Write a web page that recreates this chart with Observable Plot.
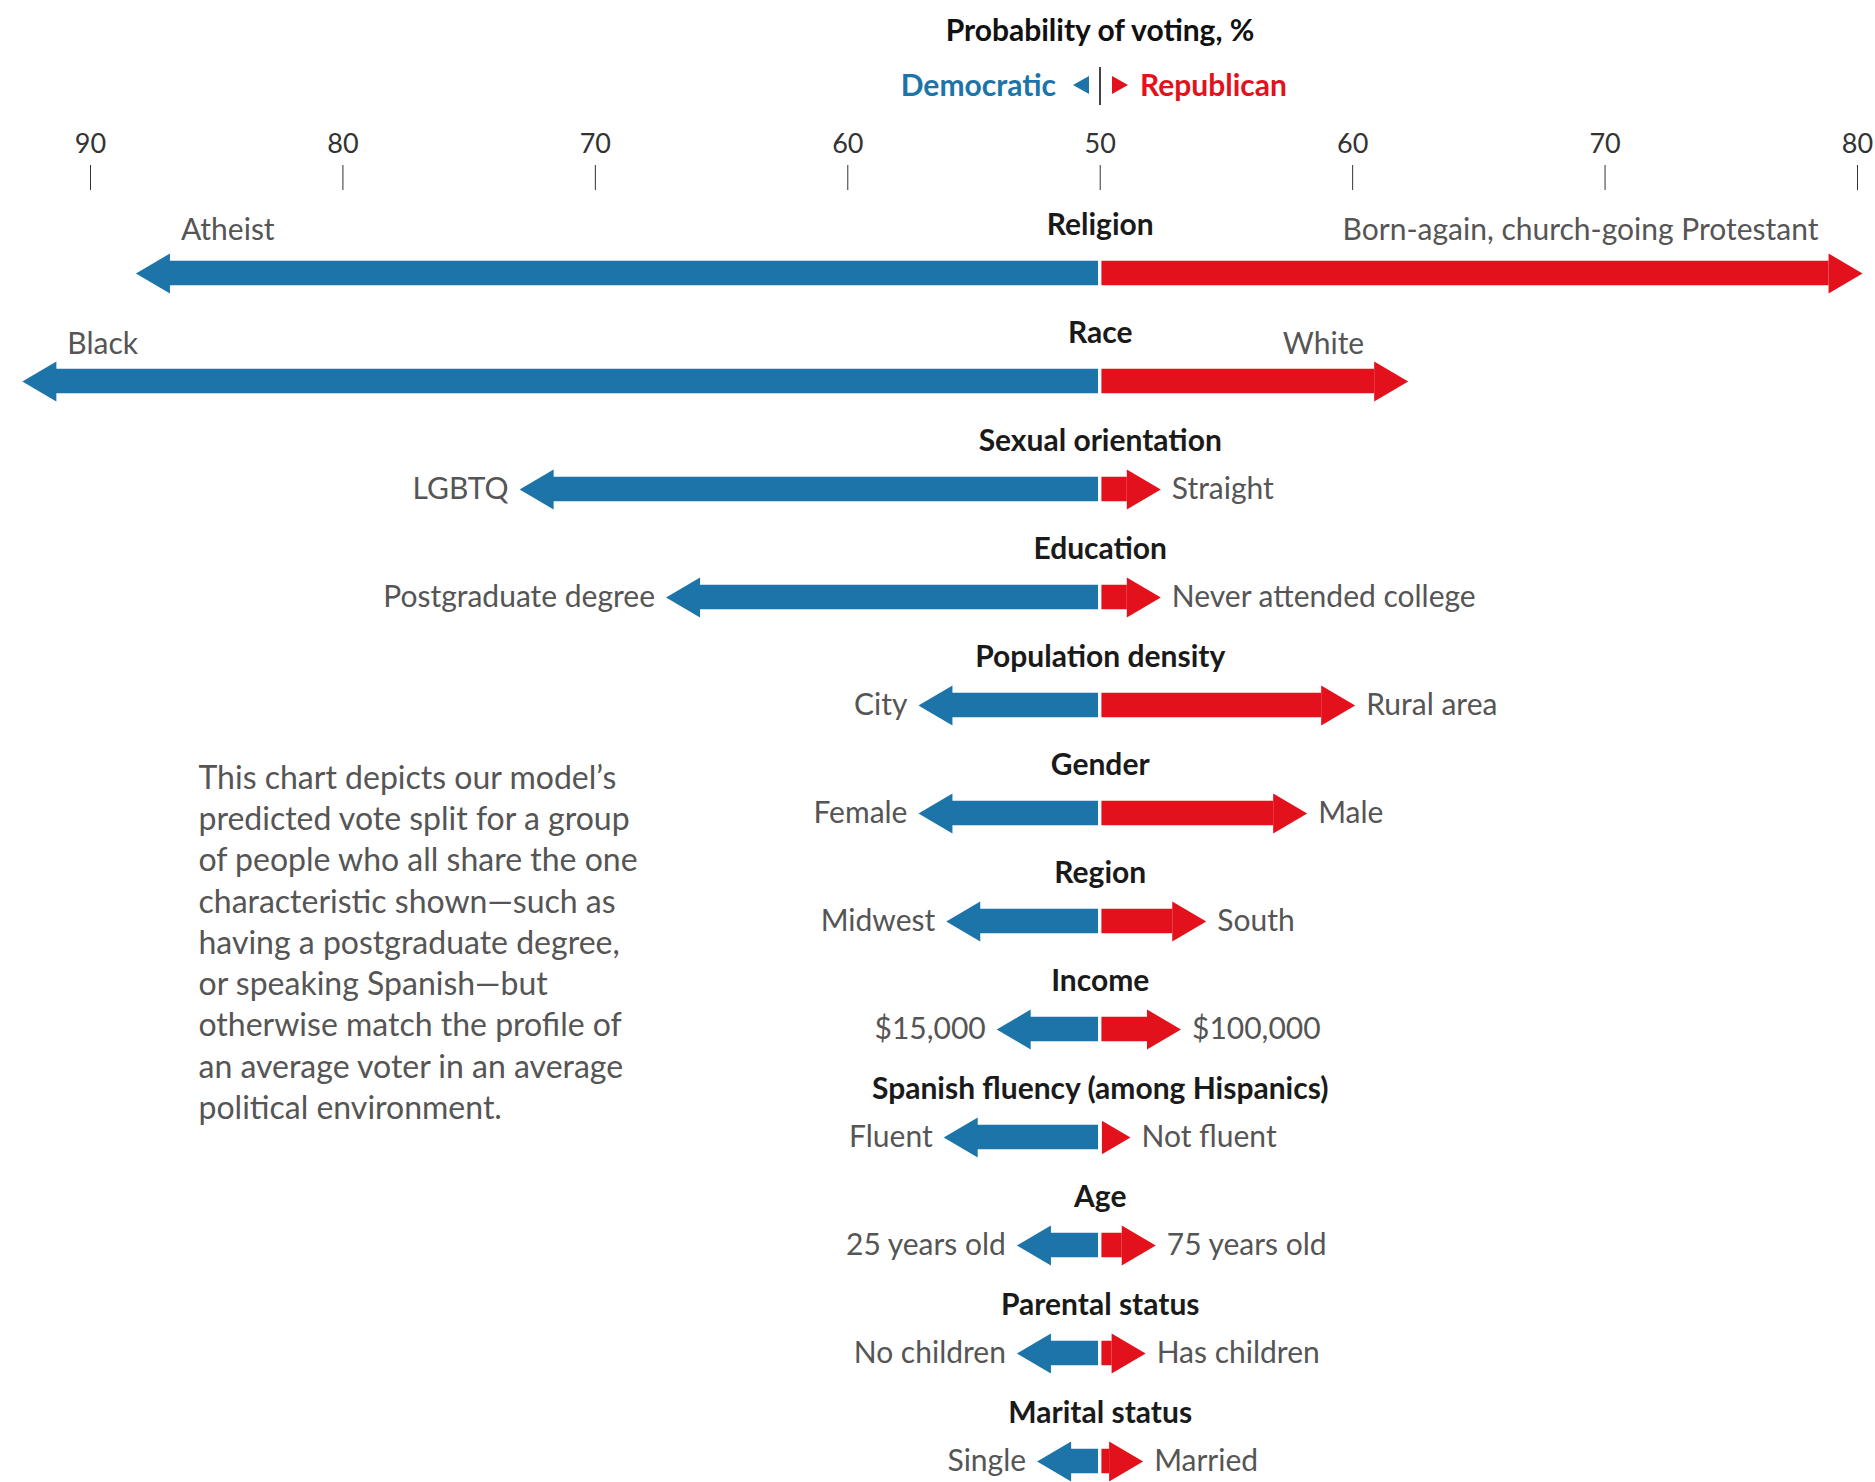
<!DOCTYPE html>
<html>
<head>
<meta charset="utf-8">
<script src="https://cdn.jsdelivr.net/npm/d3@7"></script>
<script src="https://cdn.jsdelivr.net/npm/@observablehq/plot@0.6"></script>
<style>
  body { margin: 0; background: #fff; font-family: Lato, "Noto Sans", sans-serif; }
  #header { position: relative; width: 1875px; height: 110px; }
  #header .t { position: absolute; white-space: nowrap; line-height: 30px; }
  g[aria-label^="x-axis"] line { stroke: #9b9b9b; stroke-width: 1.5px; }
  g[aria-label^="x-axis"] text { fill: #333; font-size: 27px; }
</style>
</head>
<body>
<div id="header">
  <div class="t" style="left:1100px;top:14px;transform:translateX(-50%);font-weight:700;font-size:30px;color:#111;">Probability of voting, %</div>
  <div class="t" style="right:819px;top:69px;font-weight:700;font-size:30px;color:#1c74a9;">Democratic</div>
  <svg style="position:absolute;left:1073px;top:76px" width="16" height="18"><polygon points="0,9 16,0 16,18" fill="#1c74a9"/></svg>
  <div style="position:absolute;left:1099px;top:67px;width:1.5px;height:38px;background:#444;"></div>
  <svg style="position:absolute;left:1112px;top:76px" width="16" height="18"><polygon points="0,0 16,9 0,18" fill="#e3111b"/></svg>
  <div class="t" style="left:1140px;top:69px;font-weight:700;font-size:30px;color:#e3111b;">Republican</div>
</div>
<div id="chart"></div>
<script>
// ---- data ----
const categories = ["Religion", "Race", "Sexual orientation", "Education", "Population density", "Gender", "Region", "Income", "Spanish fluency (among Hispanics)", "Age", "Parental status", "Marital status"];
const demLabels = ["Atheist", "Black", "LGBTQ", "Postgraduate degree", "City", "Female", "Midwest", "$15,000", "Fluent", "25 years old", "No children", "Single"];
const repLabels = ["Born-again, church-going Protestant", "White", "Straight", "Never attended college", "Rural area", "Male", "South", "$100,000", "Not fluent", "75 years old", "Has children", "Married"];
const demValues = [88.2, 92.7, 73.0, 67.2, 57.2, 57.2, 56.1, 54.1, 56.2, 53.3, 53.3, 52.5];
const repValues = [80.2, 62.2, 52.4, 52.4, 60.1, 58.2, 54.2, 53.2, 51.2, 52.2, 51.8, 51.7];
const tickValues = [90, 80, 70, 60, 50, 60, 70, 80];
const description = "This chart depicts our model’s\npredicted vote split for a group\nof people who all share the one\ncharacteristic shown—such as\nhaving a postgraduate degree,\nor speaking Spanish—but\notherwise match the profile of\nan average voter in an average\npolitical environment.";

// ---- layout / style ----
const W = 1875, H = 1372, mL = 90, mR = 18, mT = 79;
const blue = "#1c74a9", red = "#e3111b", grey = "#555";
const fs = 30;
const shaft = 25, headL = 34, headH = 40, gap = 1.7;
const bandTop = 106.25, bandBottom = 1408.25;
const bw = (bandBottom - bandTop) / categories.length;
const inset = (bw - shaft) / 2;
const aboveDy = new Map([["Religion", -43], ["Race", -37]]);

// signed position: Democratic to the left of 50, Republican to the right
const tickPos = tickValues.map((v, i) => (i < 4 ? -(v - 50) : v - 50));
const rows = categories.map((c, i) => ({
  cat: c, demLabel: demLabels[i], repLabel: repLabels[i],
  dx: -(demValues[i] - 50), rx: repValues[i] - 50, above: aboveDy.has(c)
}));
const pxPerUnit = (W - mL - mR) / (tickPos[tickPos.length - 1] - tickPos[0]);
const headSize = v => Math.min(headL, Math.abs(v) * pxPerUnit - gap);

function tri(dir) {
  return {
    draw(ctx, size) {
      const L = Math.sqrt(size / Math.PI);
      const h = L * headH / headL / 2;
      ctx.moveTo(0, 0);
      ctx.lineTo(-dir * L, -h);
      ctx.lineTo(-dir * L, h);
      ctx.closePath();
    }
  };
}

const aboveMarks = rows.filter(d => d.above).flatMap(d => [
  Plot.text([d], { x: "dx", y: "cat", text: "demLabel", textAnchor: "start", dx: 45, dy: aboveDy.get(d.cat), fontSize: fs, fill: grey }),
  Plot.text([d], { x: "rx", y: "cat", text: "repLabel", textAnchor: "end", dx: -44, dy: aboveDy.get(d.cat), fontSize: fs, fill: grey })
]);

const chart = Plot.plot({
  width: W, height: H,
  marginLeft: mL, marginRight: mR, marginTop: mT, marginBottom: 0,
  style: { fontFamily: "Lato, 'Noto Sans', sans-serif", fontSize: "28px", color: "#333", background: "#fff" },
  x: {
    domain: [tickPos[0], tickPos[tickPos.length - 1]], axis: "top",
    ticks: tickPos, tickFormat: d => String(50 + Math.abs(d)),
    tickSize: 25, tickPadding: 12, label: null
  },
  y: { type: "band", domain: categories, range: [bandTop, bandBottom], padding: 0, axis: null },
  r: { type: "identity" },
  marks: [
    Plot.barX(rows, { x1: "dx", x2: () => 0, y: "cat", fill: blue,
      insetLeft: headL - 0.5, insetRight: gap, insetTop: inset, insetBottom: inset }),
    Plot.barX(rows, { x1: () => 0, x2: "rx", y: "cat", fill: red,
      insetLeft: gap, insetRight: headL - 0.5, insetTop: inset, insetBottom: inset }),
    Plot.dot(rows, { x: "dx", y: "cat", symbol: tri(-1), r: d => headSize(d.dx), fill: blue, stroke: "none" }),
    Plot.dot(rows, { x: "rx", y: "cat", symbol: tri(1), r: d => headSize(d.rx), fill: red, stroke: "none" }),
    Plot.text(rows, { x: () => 0, y: "cat", text: "cat", dy: -48.5, fontWeight: "bold", fontSize: fs, fill: "#1a1a1a" }),
    Plot.text(rows.filter(d => !d.above), { x: "dx", y: "cat", text: "demLabel", textAnchor: "end", dx: -11, fontSize: fs, fill: grey }),
    Plot.text(rows.filter(d => !d.above), { x: "rx", y: "cat", text: "repLabel", textAnchor: "start", dx: 11, fontSize: fs, fill: grey }),
    ...aboveMarks,
    Plot.text([description], { frameAnchor: "top-left", text: d => d, dx: 108, dy: 570,
      lineAnchor: "top", textAnchor: "start", lineHeight: 1.289, fontSize: 32, fill: grey })
  ]
});
document.getElementById("chart").appendChild(chart);
</script>
</body>
</html>
